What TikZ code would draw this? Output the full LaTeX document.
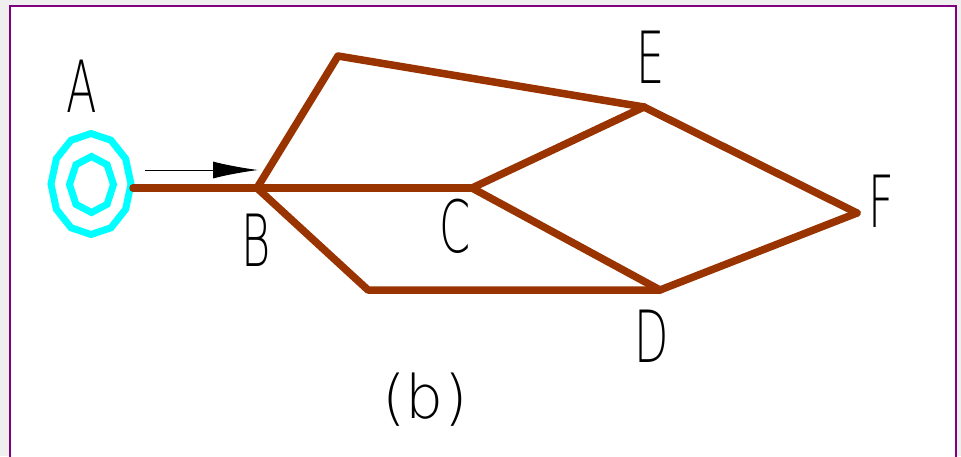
\documentclass[tikz,border=0pt]{standalone}
\usepackage{fontspec}
\newfontfamily\cad{DejaVu Sans}[UprightFont={* ExtraLight}]
\usetikzlibrary{arrows.meta}
\definecolor{edgebrown}{HTML}{993300}
\definecolor{framepurple}{HTML}{800080}
\definecolor{outergrey}{HTML}{EFEFEF}
\definecolor{ringcyan}{HTML}{00FFFF}
\tikzset{
  road/.style={draw=edgebrown, line width=7.5pt, line join=round, line cap=round},
  ring/.style={draw=ringcyan, line width=7pt, line join=miter},
  lbl/.style={anchor=base, inner sep=0pt, font=\cad\fontsize{72}{76}\selectfont},
}
\newcommand{\cadtxt}[1]{\scalebox{0.62}[1]{#1}}
\begin{document}
\begin{tikzpicture}[x=1pt,y=-1pt]
\useasboundingbox (0,0) rectangle (961,456);
\fill[outergrey] (0,0) rectangle (961,456);
\begin{scope}
\clip (0,0) rectangle (961,456);
\filldraw[fill=white, draw=framepurple, line width=2pt] (10,6) rectangle (956,480);
\end{scope}
% vertices
\coordinate (Aport) at (133,188);
\coordinate (B) at (257,188);
\coordinate (P1) at (338,56);
\coordinate (E) at (644,107);
\coordinate (C) at (472,188);
\coordinate (D) at (660,290);
\coordinate (P2) at (368,290);
\coordinate (F) at (857,213);
% source rings
\coordinate (A) at (91,184);
\draw[ring] plot[samples at={90,60,...,-240}] ({91+40*cos(\x)},{184-50.5*sin(\x)}) -- cycle;
\draw[ring] plot[samples at={90,45,...,-225}] ({91.5+22*cos(\x)},{184.5-28*sin(\x)}) -- cycle;
% roads
\draw[road] (Aport) -- (B);
\draw[road] (B) -- (P1) -- (E);
\draw[road] (B) -- (C);
\draw[road] (C) -- (E);
\draw[road] (C) -- (D);
\draw[road] (B) -- (P2) -- (D);
\draw[road] (E) -- (F);
\draw[road] (F) -- (D);
% flow arrow
\coordinate (arrS) at (145,170);
\coordinate (arrE) at (258,170);
\draw[line width=1pt, -{Latex[length=45pt,width=17pt]}] (arrS) -- (arrE);
% labels
\node[lbl] (lA) at (82,112) {\cadtxt{A}};
\node[lbl] (lB) at (256,266) {\cadtxt{B}};
\node[lbl] (lC) at (455,252) {\cadtxt{C}};
\node[lbl] (lD) at (652,362) {\cadtxt{D}};
\node[lbl] (lE) at (651,83) {\cadtxt{E}};
\node[lbl] (lF) at (881,227) {\cadtxt{F}};
\node[lbl, font=\cad\fontsize{60}{64}\selectfont] (lb) at (425,418) {\scalebox{1.0}[1]{(b)}};
\end{tikzpicture}
\end{document}
